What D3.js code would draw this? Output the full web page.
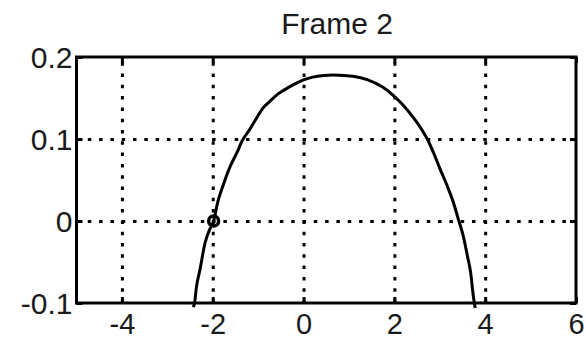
<!DOCTYPE html>
<html>
<head>
<meta charset="utf-8">
<script src="https://cdn.jsdelivr.net/npm/d3@7"></script>
<style>
  html, body { margin: 0; padding: 0; background: #fff; }
  svg { display: block; }
  text { font-family: "Liberation Sans", Arial, sans-serif; fill: #1a1a1a; }
</style>
</head>
<body>
<svg id="chart" width="586" height="340"></svg>
<script>
// Trajectory samples (x, y) for frame 2
const curveX = [-2.43, -2.40, -2.36, -2.28, -2.17, -2.08, -1.98, -1.89, -1.78, -1.62,
                -1.47, -1.34, -1.18, -1.03, -0.89, -0.74, -0.56, -0.45, -0.23, 0.00,
                 0.20, 0.45, 0.65, 0.90, 1.09, 1.40, 1.75, 1.98, 2.20, 2.42,
                 2.62, 2.73, 2.86, 3.01, 3.17, 3.30, 3.41, 3.52, 3.61, 3.68,
                 3.74, 3.78];
const curveY = [-0.105, -0.100, -0.081, -0.059, -0.027, -0.012, 0.000, 0.023, 0.042, 0.066,
                 0.083, 0.099, 0.112, 0.126, 0.138, 0.146, 0.155, 0.159, 0.166, 0.172,
                 0.1755, 0.1775, 0.178, 0.1775, 0.1765, 0.1725, 0.163, 0.153, 0.141, 0.126,
                 0.110, 0.0994, 0.0835, 0.063, 0.042, 0.0226, 0.002, -0.019, -0.043, -0.063,
                -0.092, -0.106];

// Current position marker
const markerX = [-1.98];
const markerY = [0.0];

// Axis ticks and labels
const xTicks = [-4, -2, 0, 2, 4, 6];
const xTickLabels = ["-4", "-2", "0", "2", "4", "6"];
const yTicks = [-0.1, 0, 0.1, 0.2];
const yTickLabels = ["-0.1", "0", "0.1", "0.2"];
const xDomain = [-5, 6];
const yDomain = [-0.1, 0.2];
const titleText = "Frame 2";

const svg = d3.select("#chart");
const plotL = 76.5, plotR = 576, plotT = 57, plotB = 303;
const w = plotR - plotL, h = plotB - plotT;

const x = d3.scaleLinear().domain(xDomain).range([plotL, plotR]);
const y = d3.scaleLinear().domain(yDomain).range([plotB, plotT]);

const dotted = "3.5,7.8";

// Dotted grid lines
const xGrid = svg.append("g")
  .attr("transform", `translate(0,${plotB})`)
  .call(d3.axisBottom(x).tickValues(xTicks.filter(d => d > xDomain[0] && d < xDomain[1]))
        .tickSize(-h).tickFormat(""));
xGrid.select(".domain").remove();
xGrid.selectAll("line").attr("stroke", "#000").attr("stroke-width", 3)
  .attr("stroke-dasharray", dotted);

const yGrid = svg.append("g")
  .attr("transform", `translate(${plotL},0)`)
  .call(d3.axisLeft(y).tickValues(yTicks.filter(d => d > yDomain[0] && d < yDomain[1]))
        .tickSize(-w).tickFormat(""));
yGrid.select(".domain").remove();
yGrid.selectAll("line").attr("stroke", "#000").attr("stroke-width", 3)
  .attr("stroke-dasharray", dotted);

// Inward tick marks on all four sides
const tickLen = 6;
const tickSides = [
  { axis: d3.axisBottom(x).tickValues(xTicks), t: `translate(0,${plotB})` },
  { axis: d3.axisTop(x).tickValues(xTicks), t: `translate(0,${plotT})` },
  { axis: d3.axisLeft(y).tickValues(yTicks), t: `translate(${plotL},0)` },
  { axis: d3.axisRight(y).tickValues(yTicks), t: `translate(${plotR},0)` }
];
tickSides.forEach(o => {
  const g = svg.append("g").attr("transform", o.t)
    .call(o.axis.tickSize(-tickLen).tickFormat(""));
  g.select(".domain").remove();
  g.selectAll("line").attr("stroke", "#000").attr("stroke-width", 3);
});

// Tick labels
const xLab = svg.append("g")
  .attr("transform", `translate(0,${plotB})`)
  .call(d3.axisBottom(x).tickValues(xTicks).tickSize(0).tickPadding(0)
        .tickFormat((d, i) => xTickLabels[i]));
xLab.select(".domain").remove();
xLab.attr("font-family", null).attr("font-size", null);
xLab.selectAll("text")
  .attr("font-size", 29).attr("fill", "#1a1a1a")
  .attr("dy", null).attr("y", 31).attr("text-anchor", "middle");

const yLab = svg.append("g")
  .attr("transform", `translate(${plotL},0)`)
  .call(d3.axisLeft(y).tickValues(yTicks).tickSize(0).tickPadding(0)
        .tickFormat((d, i) => yTickLabels[i]));
yLab.select(".domain").remove();
yLab.attr("font-family", null).attr("font-size", null);
yLab.selectAll("text")
  .attr("font-size", 30).attr("fill", "#1a1a1a")
  .attr("x", -4).attr("dy", "0.36em");

// Axes box
svg.append("rect")
  .attr("x", plotL).attr("y", plotT).attr("width", w).attr("height", h)
  .attr("fill", "none").attr("stroke", "#000").attr("stroke-width", 3);

// Trajectory
const pts = curveX.map((v, i) => [v, curveY[i]]);
const line = d3.line().x(d => x(d[0])).y(d => y(d[1])).curve(d3.curveMonotoneX);
svg.append("path").datum(pts)
  .attr("d", line)
  .attr("fill", "none").attr("stroke", "#000").attr("stroke-width", 3);

// Position marker
svg.selectAll("circle.marker").data(markerX).join("circle")
  .attr("class", "marker")
  .attr("cx", d => x(d)).attr("cy", (d, i) => y(markerY[i]))
  .attr("r", 5).attr("fill", "none").attr("stroke", "#000").attr("stroke-width", 3.5);

// Title
svg.append("text")
  .attr("x", 337).attr("y", 34)
  .attr("text-anchor", "middle").attr("font-size", 30)
  .text(titleText);
</script>
</body>
</html>
